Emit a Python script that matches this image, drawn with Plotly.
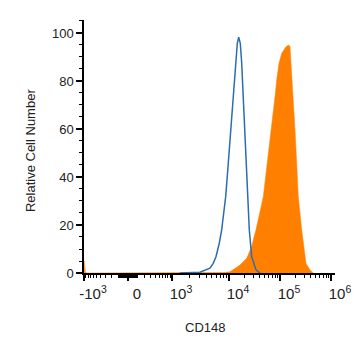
import numpy as np
import plotly.graph_objects as go

# ---- data (fluorescence intensity vs relative cell number) ----
ctrl_intensity = [1380, 1810, 3100, 4640, 5300, 5920, 6760, 7450, 8750, 9720,
                  10800, 12140, 13530, 14550, 15500, 16650, 17750, 19080, 20600,
                  21840, 23260, 25000, 27870, 33840, 40530]
ctrl_count = [0, 0, 0.3, 2.0, 4.0, 6.8, 12.4, 18.0, 31.8, 45.7,
              59.6, 73.5, 87.4, 95.7, 98.2, 95.7, 87.4, 73.5, 59.6,
              45.7, 31.8, 18.0, 6.8, 1.3, 0]

sample_intensity = [-990, -930, -880, 4060, 7940, 10460, 16430, 22240, 27870,
                    30920, 33840, 47050, 56360, 68770, 79800, 86160, 95580,
                    108000, 131100, 148100, 157100, 164300, 182300, 196800,
                    212600, 228500, 266500, 286300, 323500, 387500, 449800]
sample_count = [5, 0.5, 0, 0, 0.2, 0.5, 3.3, 6.1, 11, 15, 18, 31.8, 45.7, 59.6,
                73.5, 80.4, 87.4, 91.5, 94.3, 95, 94.3, 87.4, 73.5, 59.6, 45.7,
                31.8, 18, 12.4, 4.0, 1.3, 0]

major_vals = [-1e3, 0, 1e3, 1e4, 1e5, 1e6]
major_text = ["-10<sup>3</sup>", "0", "10<sup>3</sup>", "10<sup>4</sup>",
              "10<sup>5</sup>", "10<sup>6</sup>"]

# ---- biexponential-like display scale, calibrated on the decade ticks ----
C = 200.0
CAL_POS = [0, 44, 88, 145, 196, 247]  # relative display units of major ticks


def to_axis(v):
    v = np.asarray(v, dtype=float)
    return np.interp(np.arcsinh(v / C), np.arcsinh(np.array(major_vals) / C), CAL_POS)


minor_vals = []
for s in (-1, 1):
    minor_vals += [s * k * 10 for k in range(1, 10)]
    minor_vals += [s * k * 100 for k in range(1, 10)]
for dec in (1e3, 1e4, 1e5):
    minor_vals += [k * dec for k in range(2, 10)]

fig = go.Figure()
fig.add_trace(go.Scatter(
    x=to_axis(sample_intensity), y=sample_count, mode="lines",
    fill="tozeroy", fillcolor="#FF8000",
    line=dict(color="#FF8000", width=0.5), hoverinfo="skip", showlegend=False))
fig.add_trace(go.Scatter(
    x=to_axis(ctrl_intensity), y=ctrl_count, mode="lines",
    line=dict(color="#2b6cb3", width=1.5), hoverinfo="skip", showlegend=False))

font_family = "Arial, Liberation Sans, sans-serif"
fig.update_layout(
    width=361, height=356,
    margin=dict(l=84, r=26, t=20, b=83, autoexpand=False),
    paper_bgcolor="white", plot_bgcolor="white",
    font=dict(family=font_family, color="#222"),
    xaxis=dict(
        range=[0, 251], showgrid=False, zeroline=False, automargin=False,
        showline=True, linecolor="black", linewidth=2,
        tickmode="array", tickvals=to_axis(major_vals), ticktext=major_text,
        ticks="outside", ticklen=6, tickwidth=1.5, tickcolor="black",
        tickfont=dict(size=15, color="#222"), ticklabelshift=9,
        minor=dict(tickmode="array", tickvals=to_axis(minor_vals),
                   ticks="outside", ticklen=3, tickwidth=1, tickcolor="black",
                   showgrid=False),
        fixedrange=True,
    ),
    yaxis=dict(
        range=[0, 105.4], showgrid=False, zeroline=False, automargin=False,
        showline=True, linecolor="black", linewidth=1.5,
        tickmode="linear", tick0=0, dtick=20,
        ticks="outside", ticklen=6, tickwidth=1.5, tickcolor="black",
        tickfont=dict(size=13, color="#222"),
        minor=dict(dtick=5, ticks="outside", ticklen=3, tickwidth=1,
                   tickcolor="black", showgrid=False),
        fixedrange=True,
    ),
    annotations=[
        dict(text="Relative Cell Number", xref="paper", yref="paper",
             x=-0.215, y=0.482, textangle=-90, showarrow=False,
             xanchor="center", yanchor="middle",
             font=dict(size=13, color="#222", family=font_family)),
        dict(text="CD148", xref="paper", yref="paper",
             x=0.482, y=-0.217, showarrow=False,
             xanchor="center", yanchor="middle",
             font=dict(size=13, color="#222", family=font_family)),
    ],
)

fig.write_html("out.html", config={"displayModeBar": False},
               post_script="document.body.style.margin='0';"
                           "document.body.style.overflow='hidden';")
